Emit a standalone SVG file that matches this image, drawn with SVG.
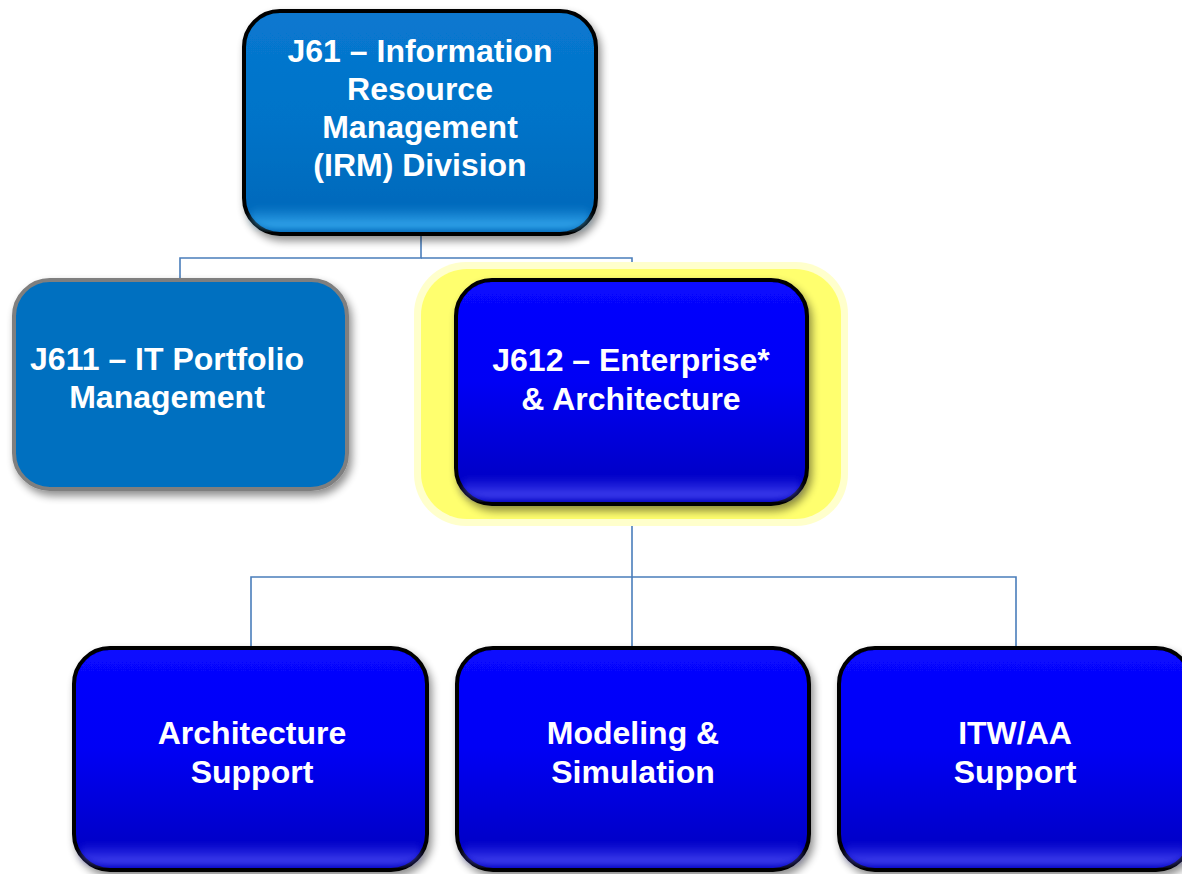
<svg xmlns="http://www.w3.org/2000/svg" width="1182" height="874" viewBox="0 0 1182 874">
<defs>
<linearGradient id="gBlue" x1="0" y1="0" x2="0" y2="1">
<stop offset="0" stop-color="#0808FF"/>
<stop offset="0.45" stop-color="#0000F5"/>
<stop offset="0.88" stop-color="#0000C8"/>
<stop offset="1" stop-color="#0000C0"/>
</linearGradient>
<linearGradient id="gTop" x1="0" y1="0" x2="0" y2="1">
<stop offset="0" stop-color="#0878D0"/>
<stop offset="0.5" stop-color="#0373C8"/>
<stop offset="0.88" stop-color="#006ABC"/>
<stop offset="1" stop-color="#0066B8"/>
</linearGradient>
<linearGradient id="gHiBlue" x1="0" y1="0" x2="0" y2="1">
<stop offset="0" stop-color="#5050FF" stop-opacity="0"/>
<stop offset="1" stop-color="#5A5AFF" stop-opacity="0.8"/>
</linearGradient>
<linearGradient id="gHiTop" x1="0" y1="0" x2="0" y2="1">
<stop offset="0" stop-color="#40B8FF" stop-opacity="0"/>
<stop offset="1" stop-color="#48BEFF" stop-opacity="0.8"/>
</linearGradient>
<filter id="shadow" x="-10%" y="-10%" width="125%" height="130%">
<feGaussianBlur in="SourceAlpha" stdDeviation="4"/>
<feOffset dx="3" dy="5" result="b"/>
<feComponentTransfer><feFuncA type="linear" slope="0.45"/></feComponentTransfer>
<feMerge><feMergeNode/><feMergeNode in="SourceGraphic"/></feMerge>
</filter>
<filter id="soft" x="-10%" y="-10%" width="120%" height="120%">
<feGaussianBlur stdDeviation="3"/>
</filter>
</defs>
<style>
.lbl{font-family:"Liberation Sans",Arial,sans-serif;font-weight:bold;font-size:32px;fill:#FFFFFF;text-anchor:middle}
.conn{fill:none;stroke:#4A7EBB;stroke-width:1.6}
.bx{stroke:#000000;stroke-width:4}
</style>
<rect width="1182" height="874" fill="#FFFFFF"/>

<g id="connectors">
<polyline class="conn" points="421,234 421,258 180,258 180,280"/>
<polyline class="conn" points="421,258 632,258 632,281"/>
<polyline class="conn" points="632,505 632,577 251,577 251,649"/>
<polyline class="conn" points="632,577 1016,577 1016,649"/>
<line class="conn" x1="632" y1="577" x2="632" y2="649"/>
</g>

<g id="node-j61">
<rect class="bx" x="244" y="11" width="352" height="223" rx="36" fill="url(#gTop)" filter="url(#shadow)"/>
<path d="M262,206 H578 Q590,206 590,218 Q586,229 562,229 H278 Q254,229 250,218 Q250,206 262,206 Z" fill="url(#gHiTop)" filter="url(#soft)"/>
<text class="lbl" x="420" y="62">J61 – Information</text>
<text class="lbl" x="420" y="100">Resource</text>
<text class="lbl" x="420" y="138">Management</text>
<text class="lbl" x="420" y="176">(IRM) Division</text>
</g>

<g id="node-j611">
<rect x="14" y="280" width="333" height="209" rx="36" fill="#0070C0" stroke="#7F7F7F" stroke-width="4" filter="url(#shadow)"/>
<text class="lbl" x="167" y="370">J611 – IT Portfolio</text>
<text class="lbl" x="167" y="408">Management</text>
</g>

<g id="node-j612">
<rect x="414" y="262" width="434" height="264" rx="52" fill="#FFFFCC"/>
<rect x="421" y="269" width="420" height="250" rx="46" fill="#FFFF6E"/>
<rect class="bx" x="456" y="280" width="351" height="224" rx="36" fill="url(#gBlue)" filter="url(#shadow)"/>
<path d="M474,476 H789 Q801,476 801,488 Q797,499 773,499 H490 Q466,499 462,488 Q462,476 474,476 Z" fill="url(#gHiBlue)" filter="url(#soft)"/>
<text class="lbl" x="631" y="371">J612 – Enterprise*</text>
<text class="lbl" x="631" y="410">&amp; Architecture</text>
</g>

<g id="node-arch">
<rect class="bx" x="74" y="648" width="353" height="222" rx="36" fill="url(#gBlue)" filter="url(#shadow)"/>
<path d="M92,842 H409 Q421,842 421,854 Q417,865 393,865 H108 Q84,865 80,854 Q80,842 92,842 Z" fill="url(#gHiBlue)" filter="url(#soft)"/>
<text class="lbl" x="252" y="744">Architecture</text>
<text class="lbl" x="252" y="783">Support</text>
</g>

<g id="node-mod">
<rect class="bx" x="457" y="648" width="352" height="222" rx="36" fill="url(#gBlue)" filter="url(#shadow)"/>
<path d="M475,842 H791 Q803,842 803,854 Q799,865 775,865 H491 Q467,865 463,854 Q463,842 475,842 Z" fill="url(#gHiBlue)" filter="url(#soft)"/>
<text class="lbl" x="633" y="744">Modeling &amp;</text>
<text class="lbl" x="633" y="783">Simulation</text>
</g>

<g id="node-itw">
<rect class="bx" x="839" y="648" width="353" height="222" rx="36" fill="url(#gBlue)" filter="url(#shadow)"/>
<path d="M857,842 H1174 Q1186,842 1186,854 Q1182,865 1158,865 H873 Q849,865 845,854 Q845,842 857,842 Z" fill="url(#gHiBlue)" filter="url(#soft)"/>
<text class="lbl" x="1015" y="744">ITW/AA</text>
<text class="lbl" x="1015" y="783">Support</text>
</g>
</svg>
